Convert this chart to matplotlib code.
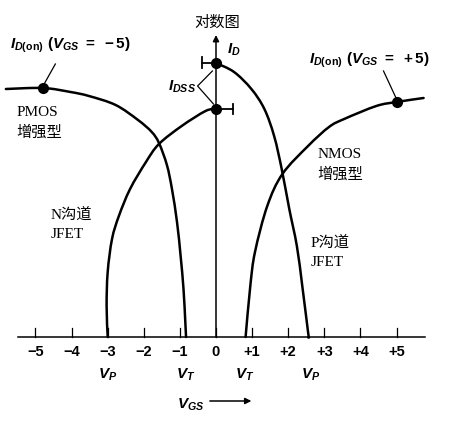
# FET 转移特性 (对数图) -- I_D vs V_GS
import matplotlib
matplotlib.use("Agg")
import numpy as np
import matplotlib.pyplot as plt
from matplotlib.path import Path
from matplotlib.patches import PathPatch

plt.rcParams['mathtext.fontset'] = 'custom'
plt.rcParams['mathtext.it'] = 'Liberation Sans:italic:bold'
plt.rcParams['mathtext.rm'] = 'Liberation Sans:bold'
plt.rcParams['mathtext.bf'] = 'Liberation Sans:bold'

# V_GS (V) and log I_D (arbitrary units)
pmos_v = [-5.82, -4.79, -4.03, -3.52, -2.78, -2.16, -1.78, -1.58, -1.36, -1.22, -1.08, -0.98, -0.90, -0.85, -0.83]
pmos_i = [248, 249, 245, 241, 232, 217, 205, 194, 172, 148, 115, 81, 48, 15, 0]

njfet_v = [-3.0, -3.03, -3.0, -2.88, -2.69, -2.38, -1.94, -1.58, -0.95, -0.29, 0.0]
njfet_i = [0, 31, 65, 98, 121, 148, 175, 193, 211, 226, 228]

pjfet_v = [0.0, 0.5, 0.98, 1.34, 1.61, 1.82, 2.03, 2.24, 2.39, 2.55, 2.57]
pjfet_i = [274, 265, 248, 228, 201, 168, 128, 91, 51, 5, 0]

nmos_v = [0.82, 0.95, 1.08, 1.42, 1.84, 2.55, 3.13, 3.55, 4.44, 5.0, 5.75]
nmos_i = [0, 51, 85, 131, 163, 191, 210, 218, 231, 235, 239]

ticks = [-5, -4, -3, -2, -1, 0, 1, 2, 3, 4, 5]
tick_labels = ['−5', '−4', '−3', '−2', '−1', '0', '+1', '+2', '+3', '+4', '+5']

# dots: I_D(on) points and I_DSS points
don_v = [-4.79, 5.0]
don_i = [249, 235]
idss_v = [0.0, 0.0]
idss_i = [274, 228]


def smooth_curve(ax, xs, ys, **kw):
    # catmull-rom through the read points, drawn as bezier segments
    p = np.column_stack([xs, ys]).astype(float)
    p = np.vstack([p[0], p, p[-1]])
    verts = [p[1]]
    codes = [Path.MOVETO]
    for i in range(1, len(p) - 2):
        c1 = p[i] + (p[i + 1] - p[i - 1]) / 6
        c2 = p[i + 1] - (p[i + 2] - p[i]) / 6
        verts += [c1, c2, p[i + 1]]
        codes += [Path.CURVE4] * 3
    ax.add_patch(PathPatch(Path(verts, codes), fill=False, **kw))


fig = plt.figure(figsize=(4.59, 4.31), dpi=100)
ax = fig.add_axes([0, 0, 1, 1])
ax.set_xlim(-5.983, 6.731)
ax.set_ylim(-93, 338)
ax.axis('off')

lw = 1.8
for xs, ys in [(pmos_v, pmos_i), (njfet_v, njfet_i), (pjfet_v, pjfet_i), (nmos_v, nmos_i)]:
    smooth_curve(ax, xs, ys, color='black', lw=lw, capstyle='round')
ax.plot(don_v, don_i, 'o', color='black', ms=7, zorder=5)
ax.plot(idss_v, idss_i, 'o', color='black', ms=7, zorder=5)

# axes
ax.plot([-5.48, 5.79], [0, 0], color='black', lw=1.1)
for t, lab in zip(ticks, tick_labels):
    ax.plot([t, t], [0, 9], color='black', lw=0.9)
    ax.text(t, -14, lab, ha='center', va='center',
            fontsize=10.5, fontweight='bold', family='Liberation Sans')
ax.annotate('', xy=(0, 302), xytext=(0, 0),
            arrowprops=dict(arrowstyle='-|>', color='black', lw=1.1,
                            mutation_scale=9, shrinkA=0, shrinkB=0))

# I_DSS spread bars
ax.plot([-0.40, 0], [274, 274], color='black', lw=1.3)
ax.plot([-0.40, -0.40], [269, 280], color='black', lw=1.3)
ax.plot([0, 0.48], [228, 228], color='black', lw=1.3)
ax.plot([0.48, 0.48], [223, 233], color='black', lw=1.3)
ax.plot([-0.10, -0.51, -0.07], [266, 251, 233], color='black', lw=0.9)
ax.text(-0.55, 251, r'$I_{DSS}$', ha='right', va='center', fontsize=11)

# leaders for I_D(on)
ax.plot([-4.45, -4.76], [273, 253], color='black', lw=0.9)
ax.plot([4.64, 5.0], [266, 238], color='black', lw=0.9)
ax.text(-5.7, 293, r'$I_{D(\mathrm{on})}\ (V_{GS}\ =\ -5)$', ha='left',
        va='center', fontsize=11)
ax.text(2.58, 278, r'$I_{D(\mathrm{on})}\ (V_{GS}\ =\ +5)$', ha='left',
        va='center', fontsize=11)

ax.text(0.02, 316, '对数图', ha='center', va='center', fontsize=11,
        family=['Noto Sans CJK SC', 'DejaVu Sans'])
ax.text(0.31, 288, r'$I_D$', ha='left', va='center', fontsize=11)

fam = ['Liberation Serif', 'Noto Sans CJK SC']
ax.text(-5.52, 226, 'PMOS', ha='left', va='center', fontsize=11, family=fam)
ax.text(-5.52, 205, '增强型', ha='left', va='center', fontsize=11, family=fam)
ax.text(2.82, 183, 'NMOS', ha='left', va='center', fontsize=11, family=fam)
ax.text(2.82, 163, '增强型', ha='left', va='center', fontsize=11, family=fam)
ax.text(-4.58, 123, 'N沟道', ha='left', va='center', fontsize=11, family=fam)
ax.text(-4.58, 103, 'JFET', ha='left', va='center', fontsize=11, family=fam)
ax.text(2.61, 95, 'P沟道', ha='left', va='center', fontsize=11, family=fam)
ax.text(2.61, 75, 'JFET', ha='left', va='center', fontsize=11, family=fam)

# V_P / V_T labels
for v, s in [(-3.0, r'$V_P$'), (-0.85, r'$V_T$'), (0.79, r'$V_T$'), (2.61, r'$V_P$')]:
    ax.text(v, -37, s, ha='center', va='center', fontsize=11)
ax.text(-0.71, -67, r'$V_{GS}$', ha='center', va='center', fontsize=11)
ax.annotate('', xy=(0.98, -64), xytext=(-0.17, -64),
            arrowprops=dict(arrowstyle='-|>', color='black', lw=1.1,
                            mutation_scale=9, shrinkA=0, shrinkB=0))

fig.savefig('out.png', dpi=100)
